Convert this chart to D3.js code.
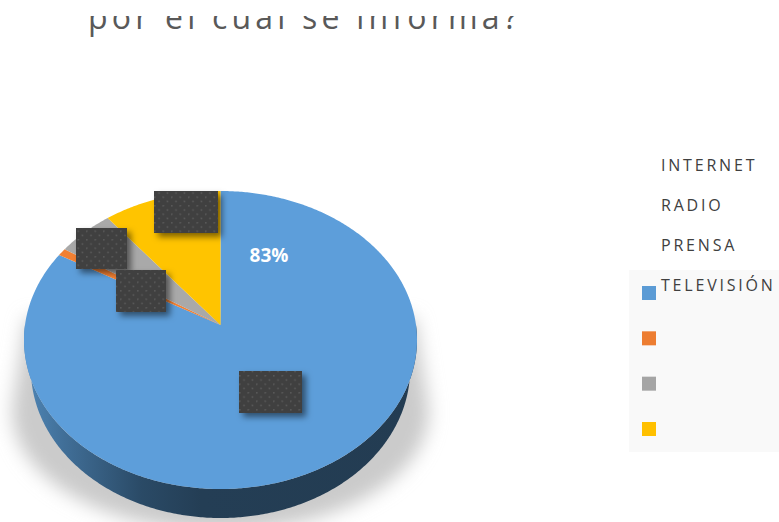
<!DOCTYPE html>
<html>
<head>
<meta charset="utf-8">
<script src="https://cdn.jsdelivr.net/npm/d3@7"></script>
<style>
  html, body { margin: 0; padding: 0; background: #fff; }
  svg { display: block; }
  text { font-family: "Open Sans", sans-serif; }
</style>
</head>
<body>
<svg width="779" height="522"></svg>
<script>
var categories = ["INTERNET", "RADIO", "PRENSA", "TELEVISIÓN"];
var shares = [83.3, 0.8, 5.2, 10.7];
var colors = ["#5b9bd5", "#ed7d31", "#a5a5a5", "#ffc000"];
var chart_title = "por el cual se informa?";

var svg = d3.select("svg");

// centre of the pie (the apex the slices meet at) and the tilt of the disc
var apex_x = 220.5, apex_y = 325, radius = 195.5, tilt = -0.1007, squash = 147.5, depth = 29;

// unit circle to screen, perspective because the front of the disc is nearer
function project(angle, r) {
  var u = Math.sin(angle) * r, v = -Math.cos(angle) * r;
  var w = 1 + tilt * v;
  return [apex_x + radius * u / w, apex_y + squash * v / w];
}

function arc_points(a0, a1) {
  var n = Math.max(2, Math.ceil((a1 - a0) / 0.01));
  return d3.range(n + 1).map(function(i) { return project(a0 + (a1 - a0) * i / n, 1); });
}

var line = d3.line();
var slices = d3.pie().sort(null).value(function(d) { return d; })(shares);

var defs = svg.append("defs");

var shadow_blur = defs.append("filter").attr("id", "shadow_blur")
    .attr("filterUnits", "userSpaceOnUse")
    .attr("x", -40).attr("y", 280).attr("width", 520).attr("height", 300);
shadow_blur.append("feGaussianBlur").attr("stdDeviation", 9);

var box_shadow = defs.append("filter").attr("id", "box_shadow")
    .attr("x", "-30%").attr("y", "-30%").attr("width", "170%").attr("height", "170%");
box_shadow.append("feDropShadow").attr("dx", 4).attr("dy", 4).attr("stdDeviation", 3)
    .attr("flood-color", "#000").attr("flood-opacity", 0.5);

var side_grad = defs.append("linearGradient").attr("id", "side_grad")
    .attr("gradientUnits", "userSpaceOnUse")
    .attr("x1", 24).attr("x2", 417).attr("y1", 0).attr("y2", 0);
side_grad.append("stop").attr("offset", 0).attr("stop-color", "#4f86b6");
side_grad.append("stop").attr("offset", 0.1).attr("stop-color", "#416f98");
side_grad.append("stop").attr("offset", 0.3).attr("stop-color", "#2a4a66");
side_grad.append("stop").attr("offset", 0.45).attr("stop-color", "#243e55");
side_grad.append("stop").attr("offset", 1).attr("stop-color", "#233c52");

var dots = defs.append("pattern").attr("id", "dots").attr("patternUnits", "userSpaceOnUse")
    .attr("width", 8.5).attr("height", 8.5);
dots.append("rect").attr("width", 8.5).attr("height", 8.5).attr("fill", "#404040");
dots.append("rect").attr("x", 1).attr("y", 1).attr("width", 1.5).attr("height", 1.5).attr("fill", "#5d5d5d");
dots.append("rect").attr("x", 5.25).attr("y", 5.25).attr("width", 1.5).attr("height", 1.5).attr("fill", "#5d5d5d");

defs.append("clipPath").attr("id", "title_clip").append("rect")
    .attr("x", 0).attr("y", 16).attr("width", 779).attr("height", 40);

// title, the top of it is cut off in the picture
svg.append("text")
    .attr("clip-path", "url(#title_clip)")
    .attr("x", 88).attr("y", 29)
    .attr("font-size", 32).attr("font-weight", 400)
    .attr("letter-spacing", 4.2)
    .attr("fill", "#595959")
    .text(chart_title);

// legend
svg.append("rect").attr("x", 629).attr("y", 270).attr("width", 150).attr("height", 182).attr("fill", "#f9f9f9");

var swatch_y = d3.scalePoint().domain(categories).range([286, 422]);
var label_y = d3.scalePoint().domain(categories).range([171, 291]);

svg.append("g").selectAll("rect").data(categories).enter().append("rect")
    .attr("x", 642).attr("y", function(d) { return swatch_y(d); })
    .attr("width", 14).attr("height", 14)
    .attr("fill", function(d, i) { return colors[i]; });

svg.append("g").selectAll("text").data(categories).enter().append("text")
    .attr("x", 661).attr("y", function(d) { return label_y(d); })
    .attr("font-size", 16).attr("letter-spacing", 2.8)
    .attr("fill", "#404040")
    .text(function(d) { return d; });

// soft shadow under the disc, widest well below the middle of the disc
var rim = arc_points(Math.PI / 2, 3 * Math.PI / 2);
var shadow_points = rim.map(function(p) {
  return [apex_x + (p[0] - apex_x) * 1.06, 412 + (p[1] - 340) * 0.8];
});
shadow_points.unshift(project(Math.PI / 2 - 0.05, 1));
shadow_points.push(project(3 * Math.PI / 2 + 0.05, 1));
svg.append("path")
    .attr("d", line(shadow_points) + "Z")
    .attr("fill", "#cbcbcb")
    .attr("filter", "url(#shadow_blur)");

// side wall of the disc, the lower rim is a bit narrower
var front = arc_points(Math.PI / 2, 3 * Math.PI / 2);
var wall = front.concat(front.slice().reverse().map(function(p) {
  return [apex_x + (p[0] - apex_x) * 0.965, p[1] + depth];
}));
svg.append("path").attr("d", line(wall) + "Z").attr("fill", "url(#side_grad)");

// top of the disc
svg.append("g").selectAll("path").data(slices).enter().append("path")
    .attr("d", function(d) {
      return line([[apex_x, apex_y]].concat(arc_points(d.startAngle, d.endAngle))) + "Z";
    })
    .attr("fill", function(d, i) { return d3.color(colors[i]).brighter(0.06); });

// percent label of the first slice, the others are covered by boxes
svg.append("text")
    .attr("x", 269).attr("y", 262)
    .attr("text-anchor", "middle")
    .attr("font-size", 19).attr("font-weight", 700)
    .attr("fill", "#fff")
    .text(d3.format(".0f")(shares[0]) + "%");

// dark label boxes
var box_x = [154, 76, 116, 239];
var box_y = [191, 228, 270, 371];
var box_w = [64, 51, 50, 63];
var box_h = [42, 41, 42, 42];

svg.append("g").selectAll("rect").data(box_x).enter().append("rect")
    .attr("x", function(d) { return d; })
    .attr("y", function(d, i) { return box_y[i]; })
    .attr("width", function(d, i) { return box_w[i]; })
    .attr("height", function(d, i) { return box_h[i]; })
    .attr("fill", "url(#dots)")
    .attr("filter", "url(#box_shadow)");
</script>
</body>
</html>
